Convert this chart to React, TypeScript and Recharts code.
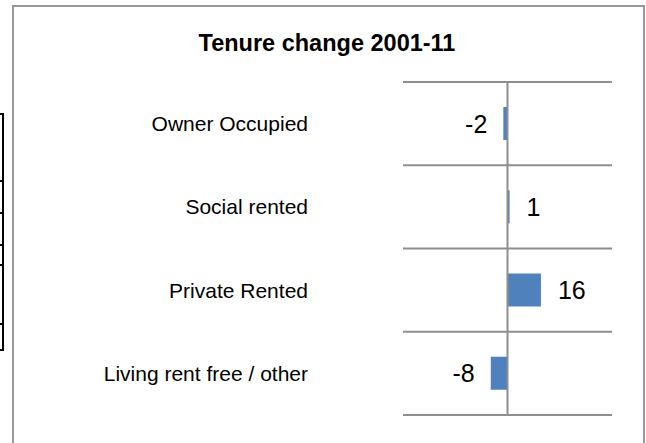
import React from "react";
import {
  BarChart,
  Bar,
  XAxis,
  YAxis,
  CartesianGrid,
  ReferenceLine,
  LabelList,
} from "recharts";

const categories = [
  "Owner Occupied",
  "Social rented",
  "Private Rented",
  "Living rent free / other",
];
const changes = [-2, 1, 16, -8];
const xDomain = [-50, 50];
const title = "Tenure change 2001-11";

const data = categories.map((name, i) => ({ name, value: changes[i] }));

const FONT = '"Liberation Sans", Arial, sans-serif';
const GRID = "#8e8e8e";

function ValueLabel(props: any) {
  const { x, y, width, height, value } = props;
  const left = Math.min(x, x + width);
  const right = Math.max(x, x + width);
  const pos = value >= 0;
  return (
    <text
      x={pos ? right + 17 : left - 16}
      y={y + height / 2}
      dy="0.36em"
      textAnchor={pos ? "start" : "end"}
      fontSize={25}
      fontFamily={FONT}
      fill="#000"
    >
      {value}
    </text>
  );
}

// lines at the category borders rather than the tick centres
const borderLines = ({ offset }: any) =>
  categories
    .map((_, i) => offset.top + (offset.height * i) / categories.length)
    .concat(offset.top + offset.height);

export default function App() {
  return (
    <div style={{ position: "absolute", left: 0, top: 0, width: 646, height: 443, overflow: "hidden", background: "#fff" }}>
      {/* bits of a table cut off at the left edge */}
      <div style={{ position: "absolute", left: 0, top: 113, width: 2, height: 236, borderRight: "2px solid #000" }} />
      {[113, 180, 212, 244, 264, 323, 349].map((t) => (
        <div key={t} style={{ position: "absolute", left: 0, top: t, width: 4, height: 2, background: "#000" }} />
      ))}

      <div
        style={{
          position: "absolute",
          left: 12,
          top: 5,
          width: 633,
          height: 460,
          border: "2px solid #999",
          boxSizing: "border-box",
        }}
      />

      <div
        style={{
          position: "absolute",
          left: 327,
          top: 32,
          transform: "translateX(-50%)",
          whiteSpace: "nowrap",
          fontFamily: FONT,
          fontWeight: "bold",
          fontSize: 23.5,
          lineHeight: 1,
          color: "#000",
        }}
      >
        {title}
      </div>

      <div style={{ position: "absolute", left: 0, top: 0 }}>
        <BarChart
          width={646}
          height={443}
          data={data}
          layout="vertical"
          margin={{ top: 82, right: 34, bottom: 28, left: 0 }}
        >
          <CartesianGrid
            vertical={false}
            stroke={GRID}
            strokeWidth={2}
            horizontalCoordinatesGenerator={borderLines}
          />
          <XAxis type="number" domain={xDomain} hide />
          <YAxis
            type="category"
            dataKey="name"
            width={403}
            axisLine={false}
            tickLine={false}
            tickSize={0}
            tickMargin={95}
            tick={{ fontSize: 21, fontFamily: FONT, fill: "#000" }}
            interval={0}
          />
          <ReferenceLine x={0} stroke={GRID} strokeWidth={2} />
          <Bar dataKey="value" fill="#4F81BD" barSize={33} isAnimationActive={false}>
            <LabelList dataKey="value" content={<ValueLabel />} />
          </Bar>
        </BarChart>
      </div>
    </div>
  );
}
